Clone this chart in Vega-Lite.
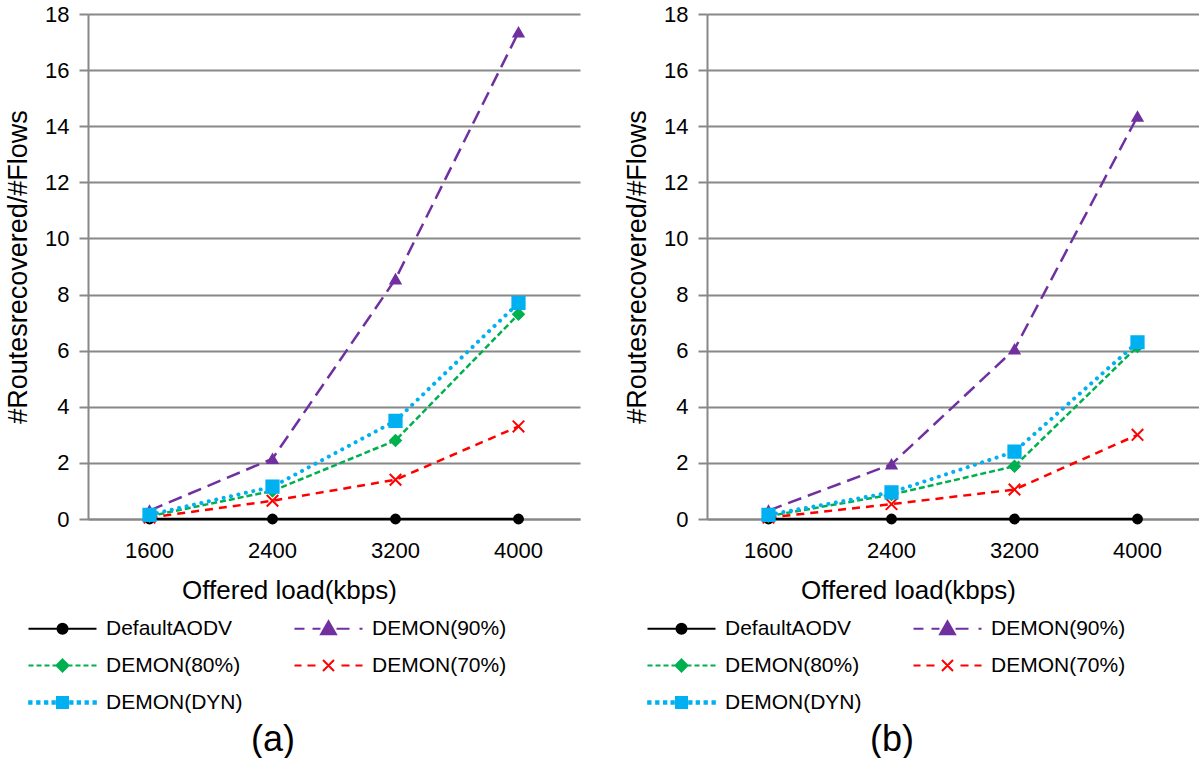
{
  "$schema": "https://vega.github.io/schema/vega-lite/v6.json",
  "padding": {"left": 4, "top": 3, "right": 0, "bottom": 0},
  "autosize": {"type": "pad"},
  "background": "white",
  "spacing": 43,
  "config": {
    "font": "Liberation Sans",
    "view": {"stroke": null},
    "axis": {"labelColor": "black", "titleColor": "black", "titleFontWeight": "normal", "labelFont": "Liberation Sans", "titleFont": "Liberation Sans"}
  },
  "datasets": {
    "a": [
      {"load": 1600, "series": "DefaultAODV", "value": 0},
      {"load": 2400, "series": "DefaultAODV", "value": 0},
      {"load": 3200, "series": "DefaultAODV", "value": 0},
      {"load": 4000, "series": "DefaultAODV", "value": 0},
      {"load": 1600, "series": "DEMON(90%)", "value": 0.3},
      {"load": 2400, "series": "DEMON(90%)", "value": 2.15},
      {"load": 3200, "series": "DEMON(90%)", "value": 8.55},
      {"load": 4000, "series": "DEMON(90%)", "value": 17.35},
      {"load": 1600, "series": "DEMON(80%)", "value": 0.1},
      {"load": 2400, "series": "DEMON(80%)", "value": 1.0},
      {"load": 3200, "series": "DEMON(80%)", "value": 2.8},
      {"load": 4000, "series": "DEMON(80%)", "value": 7.3},
      {"load": 1600, "series": "DEMON(70%)", "value": 0.05},
      {"load": 2400, "series": "DEMON(70%)", "value": 0.65},
      {"load": 3200, "series": "DEMON(70%)", "value": 1.4},
      {"load": 4000, "series": "DEMON(70%)", "value": 3.3},
      {"load": 1600, "series": "DEMON(DYN)", "value": 0.15},
      {"load": 2400, "series": "DEMON(DYN)", "value": 1.15},
      {"load": 3200, "series": "DEMON(DYN)", "value": 3.5},
      {"load": 4000, "series": "DEMON(DYN)", "value": 7.7}
    ],
    "b": [
      {"load": 1600, "series": "DefaultAODV", "value": 0},
      {"load": 2400, "series": "DefaultAODV", "value": 0},
      {"load": 3200, "series": "DefaultAODV", "value": 0},
      {"load": 4000, "series": "DefaultAODV", "value": 0},
      {"load": 1600, "series": "DEMON(90%)", "value": 0.3},
      {"load": 2400, "series": "DEMON(90%)", "value": 1.95},
      {"load": 3200, "series": "DEMON(90%)", "value": 6.05},
      {"load": 4000, "series": "DEMON(90%)", "value": 14.35},
      {"load": 1600, "series": "DEMON(80%)", "value": 0.1},
      {"load": 2400, "series": "DEMON(80%)", "value": 0.87},
      {"load": 3200, "series": "DEMON(80%)", "value": 1.88},
      {"load": 4000, "series": "DEMON(80%)", "value": 6.15},
      {"load": 1600, "series": "DEMON(70%)", "value": 0.05},
      {"load": 2400, "series": "DEMON(70%)", "value": 0.53},
      {"load": 3200, "series": "DEMON(70%)", "value": 1.05},
      {"load": 4000, "series": "DEMON(70%)", "value": 3.0},
      {"load": 1600, "series": "DEMON(DYN)", "value": 0.15},
      {"load": 2400, "series": "DEMON(DYN)", "value": 0.95},
      {"load": 3200, "series": "DEMON(DYN)", "value": 2.4},
      {"load": 4000, "series": "DEMON(DYN)", "value": 6.3}
    ]
  },
  "hconcat": [
    {
      "width": 492,
      "height": 505,
      "data": {"name": "a"},
      "title": {"text": "(a)", "orient": "bottom", "fontSize": 36, "fontWeight": "normal", "color": "black", "anchor": "middle", "frame": "group", "dx": -61, "offset": 10},
      "encoding": {
        "x": {"field": "load", "type": "ordinal", "scale": {"type": "band", "domain": [1600, 2400, 3200, 4000], "paddingInner": 0, "paddingOuter": 0},
          "axis": {"title": "Offered load(kbps)", "titleFontSize": 26, "titleX": 201, "titleAlign": "center", "titlePadding": 16, "labelFontSize": 22, "labelAngle": 0, "ticks": false, "labelPadding": 21, "domainColor": "#888888", "domainWidth": 2, "grid": false}},
        "y": {"field": "value", "type": "quantitative", "scale": {"domain": [0, 18], "nice": false},
          "axis": {"title": "#Routesrecovered/#Flows", "titleFontSize": 27, "titlePadding": 12, "values": [0, 2, 4, 6, 8, 10, 12, 14, 16, 18], "labelFontSize": 22, "labelPadding": 10, "tickSize": 9, "tickColor": "#888888", "tickWidth": 2, "domainColor": "#888888", "domainWidth": 2, "grid": true, "gridColor": "#888888", "gridWidth": 2}}
      },
      "layer": [
        {
          "transform": [{"filter": "datum.series !== 'DEMON(DYN)'"}],
          "mark": {"type": "line", "strokeWidth": 2.5},
          "encoding": {
            "color": {"field": "series", "type": "nominal", "scale": {"domain": ["DefaultAODV", "DEMON(90%)", "DEMON(80%)", "DEMON(70%)"], "range": ["#000000", "#7030A0", "#00B050", "#FF0000"]}, "legend": null},
            "strokeDash": {"field": "series", "type": "nominal", "scale": {"domain": ["DefaultAODV", "DEMON(90%)", "DEMON(80%)", "DEMON(70%)"], "range": [[1, 0], [14, 7], [6, 3], [8, 6]]}, "legend": null}
          }
        },
        {
          "transform": [{"filter": "datum.series === 'DEMON(DYN)'"}],
          "mark": {"type": "line", "strokeWidth": 4, "strokeCap": "round", "strokeDash": [0.1, 7.5], "color": "#00B0F0"},
          "encoding": {}
        },
        {
          "mark": {"type": "point", "filled": true, "opacity": 1, "strokeWidth": 2},
          "encoding": {
            "fill": {"field": "series", "type": "nominal", "scale": {"domain": ["DefaultAODV", "DEMON(90%)", "DEMON(80%)", "DEMON(70%)", "DEMON(DYN)"], "range": ["#000000", "#7030A0", "#00B050", "#FF0000", "#00B0F0"]}, "legend": null},
            "stroke": {"field": "series", "type": "nominal", "scale": {"domain": ["DefaultAODV", "DEMON(90%)", "DEMON(80%)", "DEMON(70%)", "DEMON(DYN)"], "range": ["#000000", "#7030A0", "#00B050", "#FF0000", "#00B0F0"]}, "legend": null},
            "shape": {"field": "series", "type": "nominal", "scale": {"domain": ["DefaultAODV", "DEMON(90%)", "DEMON(80%)", "DEMON(70%)", "DEMON(DYN)"], "range": ["circle", "triangle-up", "diamond", "M-1,-1L1,1M1,-1L-1,1", "square"]}, "legend": null},
            "size": {"field": "series", "type": "nominal", "scale": {"domain": ["DefaultAODV", "DEMON(90%)", "DEMON(80%)", "DEMON(70%)", "DEMON(DYN)"], "range": [80, 150, 100, 110, 90]}, "legend": null}
          }
        },
        {
          "transform": [{"filter": "false"}],
          "mark": {"type": "point", "filled": true, "strokeWidth": 2, "size": 185},
          "encoding": {
            "fill": {"field": "series", "type": "nominal", "scale": {"domain": ["DefaultAODV", "DEMON(80%)", "DEMON(DYN)", "DEMON(90%)", "DEMON(70%)"], "range": ["#000000", "#00B050", "#00B0F0", "#7030A0", "#FF0000"]},
              "legend": {"title": null, "orient": "none", "legendX": -36, "legendY": 604, "columns": 2, "columnPadding": 47, "rowPadding": 15, "labelFontSize": 21, "labelColor": "black", "labelFont": "Liberation Sans", "labelOffset": 33, "labelLimit": 300, "symbolSize": 185, "symbolStrokeWidth": 2, "symbolOpacity": 1}},
            "stroke": {"field": "series", "type": "nominal", "scale": {"domain": ["DefaultAODV", "DEMON(80%)", "DEMON(DYN)", "DEMON(90%)", "DEMON(70%)"], "range": ["#000000", "#00B050", "#00B0F0", "#7030A0", "#FF0000"]},
              "legend": {"title": null, "orient": "none", "legendX": -36, "legendY": 604, "columns": 2, "columnPadding": 47, "rowPadding": 15, "labelFontSize": 21, "labelColor": "black", "labelFont": "Liberation Sans", "labelOffset": 33, "labelLimit": 300, "symbolSize": 185, "symbolStrokeWidth": 2, "symbolOpacity": 1}},
            "shape": {"field": "series", "type": "nominal", "scale": {"domain": ["DefaultAODV", "DEMON(80%)", "DEMON(DYN)", "DEMON(90%)", "DEMON(70%)"], "range": [
              "M-5,0L5,0M0.74,0A0.74,0.74,0,1,1,-0.74,0A0.74,0.74,0,1,1,0.74,0Z",
              "M-5,0L-4.26,0M-3.82,0L-3.09,0M-2.65,0L-1.91,0M-1.47,0L-0.88,0M0.88,0L1.47,0M1.91,0L2.65,0M3.09,0L3.82,0M4.26,0L5,0M0,-0.88L0.88,0L0,0.88L-0.88,0Z",
              "M-4.9,-0.17h0.34v0.34h-0.34ZM-3.73,-0.17h0.34v0.34h-0.34ZM-2.57,-0.17h0.34v0.34h-0.34ZM-1.47,-0.17h0.34v0.34h-0.34ZM1.13,-0.17h0.34v0.34h-0.34ZM2.23,-0.17h0.34v0.34h-0.34ZM3.39,-0.17h0.34v0.34h-0.34ZM4.56,-0.17h0.34v0.34h-0.34ZM-0.81,-0.81h1.62v1.62h-1.62Z",
              "M-5,0L-3.53,0M-2.35,0L-1.18,0M1.18,0L3.09,0M4.56,0L5,0M0,-1.1L1.1,0.81L-1.1,0.81Z",
              "M-5,0L-3.97,0M-3.09,0L-1.91,0M1.91,0L3.09,0M3.97,0L5,0M-0.81,-0.81L0.81,0.81M0.81,-0.81L-0.81,0.81"
            ]},
              "legend": {"title": null, "orient": "none", "legendX": -36, "legendY": 604, "columns": 2, "columnPadding": 47, "rowPadding": 15, "labelFontSize": 21, "labelColor": "black", "labelFont": "Liberation Sans", "labelOffset": 33, "labelLimit": 300, "symbolSize": 185, "symbolStrokeWidth": 2, "symbolOpacity": 1}}
          }
        }
      ],
      "resolve": {"scale": {"color": "independent", "fill": "independent", "stroke": "independent", "shape": "independent", "strokeDash": "independent", "size": "independent"}}
    },
    {
      "width": 492,
      "height": 505,
      "data": {"name": "b"},
      "title": {"text": "(b)", "orient": "bottom", "fontSize": 36, "fontWeight": "normal", "color": "black", "anchor": "middle", "frame": "group", "dx": -61, "offset": 10},
      "encoding": {
        "x": {"field": "load", "type": "ordinal", "scale": {"type": "band", "domain": [1600, 2400, 3200, 4000], "paddingInner": 0, "paddingOuter": 0},
          "axis": {"title": "Offered load(kbps)", "titleFontSize": 26, "titleX": 201, "titleAlign": "center", "titlePadding": 16, "labelFontSize": 22, "labelAngle": 0, "ticks": false, "labelPadding": 21, "domainColor": "#888888", "domainWidth": 2, "grid": false}},
        "y": {"field": "value", "type": "quantitative", "scale": {"domain": [0, 18], "nice": false},
          "axis": {"title": "#Routesrecovered/#Flows", "titleFontSize": 27, "titlePadding": 12, "values": [0, 2, 4, 6, 8, 10, 12, 14, 16, 18], "labelFontSize": 22, "labelPadding": 10, "tickSize": 9, "tickColor": "#888888", "tickWidth": 2, "domainColor": "#888888", "domainWidth": 2, "grid": true, "gridColor": "#888888", "gridWidth": 2}}
      },
      "layer": [
        {
          "transform": [{"filter": "datum.series !== 'DEMON(DYN)'"}],
          "mark": {"type": "line", "strokeWidth": 2.5},
          "encoding": {
            "color": {"field": "series", "type": "nominal", "scale": {"domain": ["DefaultAODV", "DEMON(90%)", "DEMON(80%)", "DEMON(70%)"], "range": ["#000000", "#7030A0", "#00B050", "#FF0000"]}, "legend": null},
            "strokeDash": {"field": "series", "type": "nominal", "scale": {"domain": ["DefaultAODV", "DEMON(90%)", "DEMON(80%)", "DEMON(70%)"], "range": [[1, 0], [14, 7], [6, 3], [8, 6]]}, "legend": null}
          }
        },
        {
          "transform": [{"filter": "datum.series === 'DEMON(DYN)'"}],
          "mark": {"type": "line", "strokeWidth": 4, "strokeCap": "round", "strokeDash": [0.1, 7.5], "color": "#00B0F0"},
          "encoding": {}
        },
        {
          "mark": {"type": "point", "filled": true, "opacity": 1, "strokeWidth": 2},
          "encoding": {
            "fill": {"field": "series", "type": "nominal", "scale": {"domain": ["DefaultAODV", "DEMON(90%)", "DEMON(80%)", "DEMON(70%)", "DEMON(DYN)"], "range": ["#000000", "#7030A0", "#00B050", "#FF0000", "#00B0F0"]}, "legend": null},
            "stroke": {"field": "series", "type": "nominal", "scale": {"domain": ["DefaultAODV", "DEMON(90%)", "DEMON(80%)", "DEMON(70%)", "DEMON(DYN)"], "range": ["#000000", "#7030A0", "#00B050", "#FF0000", "#00B0F0"]}, "legend": null},
            "shape": {"field": "series", "type": "nominal", "scale": {"domain": ["DefaultAODV", "DEMON(90%)", "DEMON(80%)", "DEMON(70%)", "DEMON(DYN)"], "range": ["circle", "triangle-up", "diamond", "M-1,-1L1,1M1,-1L-1,1", "square"]}, "legend": null},
            "size": {"field": "series", "type": "nominal", "scale": {"domain": ["DefaultAODV", "DEMON(90%)", "DEMON(80%)", "DEMON(70%)", "DEMON(DYN)"], "range": [80, 150, 100, 110, 90]}, "legend": null}
          }
        },
        {
          "transform": [{"filter": "false"}],
          "mark": {"type": "point", "filled": true, "strokeWidth": 2, "size": 185},
          "encoding": {
            "fill": {"field": "series", "type": "nominal", "scale": {"domain": ["DefaultAODV", "DEMON(80%)", "DEMON(DYN)", "DEMON(90%)", "DEMON(70%)"], "range": ["#000000", "#00B050", "#00B0F0", "#7030A0", "#FF0000"]},
              "legend": {"title": null, "orient": "none", "legendX": -36, "legendY": 604, "columns": 2, "columnPadding": 47, "rowPadding": 15, "labelFontSize": 21, "labelColor": "black", "labelFont": "Liberation Sans", "labelOffset": 33, "labelLimit": 300, "symbolSize": 185, "symbolStrokeWidth": 2, "symbolOpacity": 1}},
            "stroke": {"field": "series", "type": "nominal", "scale": {"domain": ["DefaultAODV", "DEMON(80%)", "DEMON(DYN)", "DEMON(90%)", "DEMON(70%)"], "range": ["#000000", "#00B050", "#00B0F0", "#7030A0", "#FF0000"]},
              "legend": {"title": null, "orient": "none", "legendX": -36, "legendY": 604, "columns": 2, "columnPadding": 47, "rowPadding": 15, "labelFontSize": 21, "labelColor": "black", "labelFont": "Liberation Sans", "labelOffset": 33, "labelLimit": 300, "symbolSize": 185, "symbolStrokeWidth": 2, "symbolOpacity": 1}},
            "shape": {"field": "series", "type": "nominal", "scale": {"domain": ["DefaultAODV", "DEMON(80%)", "DEMON(DYN)", "DEMON(90%)", "DEMON(70%)"], "range": [
              "M-5,0L5,0M0.74,0A0.74,0.74,0,1,1,-0.74,0A0.74,0.74,0,1,1,0.74,0Z",
              "M-5,0L-4.26,0M-3.82,0L-3.09,0M-2.65,0L-1.91,0M-1.47,0L-0.88,0M0.88,0L1.47,0M1.91,0L2.65,0M3.09,0L3.82,0M4.26,0L5,0M0,-0.88L0.88,0L0,0.88L-0.88,0Z",
              "M-4.9,-0.17h0.34v0.34h-0.34ZM-3.73,-0.17h0.34v0.34h-0.34ZM-2.57,-0.17h0.34v0.34h-0.34ZM-1.47,-0.17h0.34v0.34h-0.34ZM1.13,-0.17h0.34v0.34h-0.34ZM2.23,-0.17h0.34v0.34h-0.34ZM3.39,-0.17h0.34v0.34h-0.34ZM4.56,-0.17h0.34v0.34h-0.34ZM-0.81,-0.81h1.62v1.62h-1.62Z",
              "M-5,0L-3.53,0M-2.35,0L-1.18,0M1.18,0L3.09,0M4.56,0L5,0M0,-1.1L1.1,0.81L-1.1,0.81Z",
              "M-5,0L-3.97,0M-3.09,0L-1.91,0M1.91,0L3.09,0M3.97,0L5,0M-0.81,-0.81L0.81,0.81M0.81,-0.81L-0.81,0.81"
            ]},
              "legend": {"title": null, "orient": "none", "legendX": -36, "legendY": 604, "columns": 2, "columnPadding": 47, "rowPadding": 15, "labelFontSize": 21, "labelColor": "black", "labelFont": "Liberation Sans", "labelOffset": 33, "labelLimit": 300, "symbolSize": 185, "symbolStrokeWidth": 2, "symbolOpacity": 1}}
          }
        }
      ],
      "resolve": {"scale": {"color": "independent", "fill": "independent", "stroke": "independent", "shape": "independent", "strokeDash": "independent", "size": "independent"}}
    }
  ]
}
